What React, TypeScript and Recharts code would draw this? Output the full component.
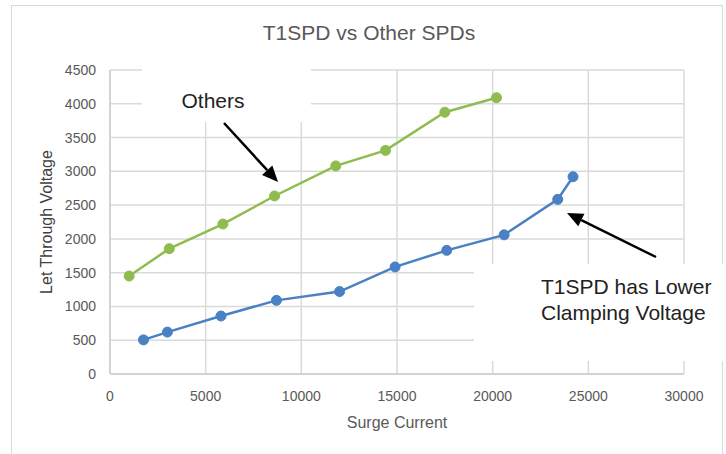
import { LineChart, Line, XAxis, YAxis, CartesianGrid } from "recharts";

const xTicks = [0, 5000, 10000, 15000, 20000, 25000, 30000];
const yTicks = [0, 500, 1000, 1500, 2000, 2500, 3000, 3500, 4000, 4500];

const othersCurrent = [1000, 3100, 5900, 8600, 11800, 14400, 17500, 20200];
const othersVoltage = [1450, 1855, 2220, 2635, 3080, 3310, 3875, 4090];

const t1Current = [1750, 3000, 5800, 8700, 12000, 14900, 17600, 20600, 23400, 24200];
const t1Voltage = [505, 620, 858, 1090, 1220, 1585, 1830, 2060, 2585, 2920];

const others = othersCurrent.map((x, i) => ({ x, y: othersVoltage[i] }));
const t1spd = t1Current.map((x, i) => ({ x, y: t1Voltage[i] }));

const font = "'Liberation Sans', Arial, sans-serif";
const tickStyle = { fontSize: 14, fill: "#595959", fontFamily: font };

function Arrow({ x1, y1, x2, y2 }: { x1: number; y1: number; x2: number; y2: number }) {
  const a = Math.atan2(y2 - y1, x2 - x1);
  const len = 16;
  const half = 7;
  const bx = x2 - len * Math.cos(a);
  const by = y2 - len * Math.sin(a);
  const px = -Math.sin(a) * half;
  const py = Math.cos(a) * half;
  return (
    <g>
      <line x1={x1} y1={y1} x2={bx} y2={by} stroke="#000" strokeWidth={2.5} />
      <polygon points={`${x2},${y2} ${bx + px},${by + py} ${bx - px},${by - py}`} fill="#000" />
    </g>
  );
}

export default function App() {
  return (
    <div style={{ position: "absolute", left: 0, top: 0, width: 726, height: 454, background: "#fff" }}>
      <LineChart width={726} height={454} margin={{ top: 70, right: 42, left: 0, bottom: 0 }}>
        <CartesianGrid stroke="#dadada" strokeWidth={1.5} />
        <XAxis
          type="number"
          dataKey="x"
          domain={[0, 30000]}
          ticks={xTicks}
          height={80}
          tickSize={0}
          tickMargin={17}
          tick={tickStyle}
          stroke="#cfcfcf"
          strokeWidth={1.5}
        />
        <YAxis
          type="number"
          dataKey="y"
          domain={[0, 4500]}
          ticks={yTicks}
          width={110}
          tickSize={0}
          tickMargin={14}
          tick={tickStyle}
          stroke="#cfcfcf"
          strokeWidth={1.5}
        />
        <Line
          data={others}
          dataKey="y"
          stroke="#8fbc4f"
          strokeWidth={2.5}
          dot={{ r: 5, fill: "#8fbc4f", stroke: "#8fbc4f", strokeWidth: 1 }}
          isAnimationActive={false}
        />
        <Line
          data={t1spd}
          dataKey="y"
          stroke="#4a80c4"
          strokeWidth={2.5}
          dot={{ r: 5, fill: "#4a80c4", stroke: "#4a80c4", strokeWidth: 1 }}
          isAnimationActive={false}
        />
      </LineChart>
      <svg
        width={726}
        height={454}
        style={{ position: "absolute", left: 0, top: 0, pointerEvents: "none" }}
      >
        <rect x={11.5} y={5.5} width={711} height={470} fill="none" stroke="#d9d9d9" />
        <text x={369} y={40} textAnchor="middle" fontSize={21} fill="#595959" fontFamily={font}>
          T1SPD vs Other SPDs
        </text>
        <text x={397} y={428} textAnchor="middle" fontSize={16} fill="#595959" fontFamily={font}>
          Surge Current
        </text>
        <text
          x={0}
          y={0}
          transform="translate(52,222) rotate(-90)"
          textAnchor="middle"
          fontSize={16}
          fill="#404040"
          fontFamily={font}
        >
          Let Through Voltage
        </text>
        <rect x={142} y={64} width={169} height={58} fill="#fff" />
        <text x={213} y={108} textAnchor="middle" fontSize={21} fill="#222" fontFamily={font}>
          Others
        </text>
        <rect x={474} y={264} width={252} height={97} fill="#fff" />
        <text x={541} y={294} fontSize={21} fill="#222" fontFamily={font}>
          T1SPD has Lower
        </text>
        <text x={541} y={320} fontSize={21} fill="#222" fontFamily={font}>
          Clamping Voltage
        </text>
        <Arrow x1={224} y1={123} x2={278} y2={182} />
        <Arrow x1={656} y1={257} x2={567} y2={213} />
      </svg>
    </div>
  );
}
